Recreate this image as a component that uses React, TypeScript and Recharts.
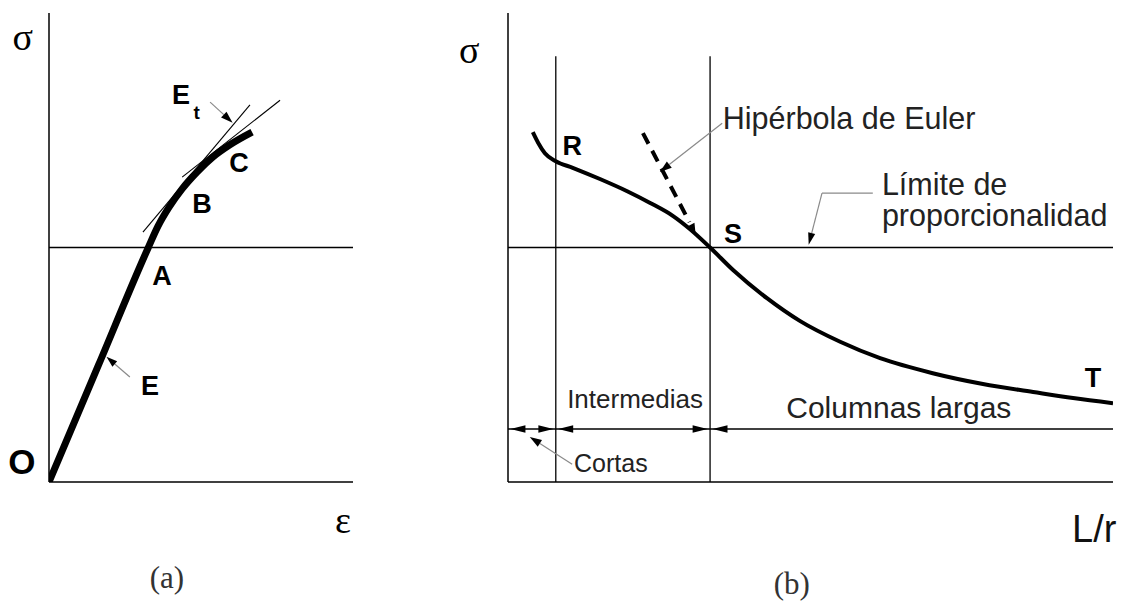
import React from 'react';
import { ComposedChart, Line, XAxis, YAxis, ReferenceLine, ReferenceDot } from 'recharts';

const W = 1126;
const H = 601;

// ---------- (a) stress–strain ----------
// strain / stress in relative units (0..100 on both axes)
const curveA = [
  { x: 0, y: 0 },
  { x: 16.3, y: 24.95 },
  { x: 32.6, y: 49.9 },
  { x: 35.9, y: 54.6 },
  { x: 39.5, y: 58.6 },
  { x: 43.8, y: 62.5 },
  { x: 48.7, y: 66.1 },
  { x: 53.9, y: 69.3 },
  { x: 59.5, y: 71.9 },
  { x: 66.8, y: 74.6 },
];
const limitA = 50;
const tangentB = [{ x: 30.9, y: 53.3 }, { x: 66.1, y: 80.4 }];
const tangentC = [{ x: 43.8, y: 65.0 }, { x: 76.0, y: 81.4 }];
const arrowEt = [{ x: 53.0, y: 81.0 }, { x: 60.4, y: 76.6 }];
const arrowE = [{ x: 26.6, y: 22.4 }, { x: 18.9, y: 26.7 }];
const pointsA = [
  { text: 'A', x: 37.2, y: 42.0 },
  { text: 'B', x: 50.3, y: 57.4 },
  { text: 'C', x: 62.5, y: 66.1 },
  { text: 'E', x: 33.2, y: 18.6 },
  { text: 'E', x: 43.4, y: 80.6 },
];
const subA = [{ text: 't', x: 48.6, y: 77.4 }];
const originA = [{ text: 'O', x: -8.9, y: 1.7 }];
const symbolsA = [
  { text: 'σ', x: -8.6, y: 92.1 },
  { text: 'ε', x: 96.7, y: -10.9 },
];
const captionA = [{ text: '(a)', x: 38.8, y: -22.6 }];

// ---------- (b) column curve ----------
const curveB = [
  { x: 4.1, y: 74.6 },
  { x: 5.0, y: 72.3 },
  { x: 6.1, y: 70.1 },
  { x: 7.9, y: 68.4 },
  { x: 10.7, y: 67.0 },
  { x: 15.2, y: 64.6 },
  { x: 19.7, y: 62.0 },
  { x: 23.5, y: 59.5 },
  { x: 27.3, y: 56.7 },
  { x: 30.1, y: 53.9 },
  { x: 33.4, y: 50.0 },
  { x: 37.2, y: 45.2 },
  { x: 42.8, y: 39.2 },
  { x: 48.3, y: 34.3 },
  { x: 54.9, y: 29.9 },
  { x: 61.5, y: 26.4 },
  { x: 70.2, y: 23.2 },
  { x: 78.5, y: 20.9 },
  { x: 86.8, y: 19.2 },
  { x: 93.4, y: 17.9 },
  { x: 100, y: 16.8 },
];
const eulerB = [{ x: 22.3, y: 74.4 }, { x: 30.0, y: 55.4 }];
const eulerTip = [{ x: 29.3, y: 57.2 }, { x: 31.0, y: 53.0 }];
const limitB = 50;
const shortLimit = 7.9;
const eulerLimit = 33.4;
const boundaryTop = 90.8;
const rangeLevel = 11.3;
// arrow heads on the range line: [tail, tip]
const rangeHeads = [
  [0.4 + 2.5, 0.4],
  [shortLimit - 0.4 - 2.5, shortLimit - 0.4],
  [shortLimit + 0.4 + 2.5, shortLimit + 0.4],
  [eulerLimit - 0.4 - 2.5, eulerLimit - 0.4],
  [eulerLimit + 0.4 + 2.5, eulerLimit + 0.4],
];
const leaderEuler = [{ x: 35.4, y: 76.5 }, { x: 25.1, y: 66.1 }];
const leaderLimitFlat = [{ x: 60.3, y: 61.6 }, { x: 51.9, y: 61.6 }];
const leaderLimit = [{ x: 51.9, y: 61.6 }, { x: 49.7, y: 50.6 }];
const leaderShort = [{ x: 10.6, y: 3.8 }, { x: 3.6, y: 9.6 }];
const pointsB = [
  { text: 'R', x: 10.6, y: 69.7 },
  { text: 'S', x: 37.2, y: 51.0 },
  { text: 'T', x: 96.7, y: 20.3 },
];
const notesLeftB = [
  { text: 'Hipérbola de Euler', x: 35.5, y: 75.3 },
  { text: 'Límite de', x: 61.8, y: 61.2 },
  { text: 'proporcionalidad', x: 61.8, y: 54.6 },
];
const intermediateNote = [{ text: 'Intermedias', x: 21.0, y: 15.8 }];
const longNote = [{ text: 'Columnas largas', x: 64.6, y: 13.6 }];
const shortNote = [{ text: 'Cortas', x: 17.0, y: 2.1 }];
const symbolsB = [{ text: 'σ', x: -6.4, y: 89.3 }];
const axisNameB = [{ text: 'L/r', x: 96.9, y: -12.8 }];
const captionB = [{ text: '(b)', x: 46.9, y: -23.8 }];

const SANS = "'Liberation Sans', Arial, Helvetica, sans-serif";
const SERIF = "'Liberation Serif', 'DejaVu Serif', 'Times New Roman', serif";
const GREY = '#8a8a8a';

type TextStyle = { size: number; family: string; weight?: number; anchor?: 'start' | 'middle' | 'end'; fill?: string };

const boldLetter: TextStyle = { size: 27, family: SANS, weight: 700 };
const boldSub: TextStyle = { size: 19, family: SANS, weight: 700 };
const boldOrigin: TextStyle = { size: 35, family: SANS, weight: 700 };
const greek: TextStyle = { size: 38, family: SERIF };
const caption: TextStyle = { size: 31, family: SERIF, fill: '#333' };
const noteStart: TextStyle = { size: 30.5, family: SANS, anchor: 'start', fill: '#222' };
const noteMid = (size: number): TextStyle => ({ size, family: SANS, fill: '#222' });
const axisName: TextStyle = { size: 38, family: SANS, fill: '#111' };

const textShape = (t: string, s: TextStyle) => (p: any) => (
  <text
    x={p.cx}
    y={p.cy}
    textAnchor={s.anchor ?? 'middle'}
    fontFamily={s.family}
    fontSize={s.size}
    fontWeight={s.weight ?? 400}
    fill={s.fill ?? '#000'}
  >
    {t}
  </text>
);

// line with a filled arrow head at the second point; pass null colour for head only
const arrowShape = (lineColor: string | null, headLen = 11, headHalf = 3.6) => (p: any) => {
  const { x1, y1, x2, y2 } = p;
  if ([x1, y1, x2, y2].some((v) => typeof v !== 'number' || isNaN(v))) return <g />;
  const dx = x2 - x1;
  const dy = y2 - y1;
  const len = Math.hypot(dx, dy) || 1;
  const ux = dx / len;
  const uy = dy / len;
  const bx = x2 - ux * headLen;
  const by = y2 - uy * headLen;
  const pts = `${x2},${y2} ${bx - uy * headHalf},${by + ux * headHalf} ${bx + uy * headHalf},${by - ux * headHalf}`;
  return (
    <g>
      {lineColor && <line x1={x1} y1={y1} x2={bx} y2={by} stroke={lineColor} strokeWidth={1.2} />}
      <polygon points={pts} fill="#000" />
    </g>
  );
};

const labels = (items: { text: string; x: number; y: number }[], s: TextStyle, key: string) =>
  items.map((d, i) => (
    <ReferenceDot
      key={`${key}-${i}`}
      x={d.x}
      y={d.y}
      r={0}
      ifOverflow="visible"
      shape={textShape(d.text, s)}
    />
  ));

const seg = (pts: { x: number; y: number }[]) =>
  [
    { x: pts[0].x, y: pts[0].y },
    { x: pts[1].x, y: pts[1].y },
  ] as any;

const axes = () => [
  <XAxis key="x" type="number" dataKey="x" domain={[0, 100]} hide allowDataOverflow />,
  <YAxis key="y" type="number" domain={[0, 100]} hide allowDataOverflow />,
];

const layer: React.CSSProperties = { position: 'absolute', left: 0, top: 0 };

function StressStrain() {
  return (
    <div style={layer}>
      <ComposedChart width={W} height={H} margin={{ top: 13, left: 49, right: W - 353, bottom: H - 482 }}>
        {axes()}
        <ReferenceLine x={0} stroke="#000" strokeWidth={1.5} ifOverflow="visible" />
        <ReferenceLine y={0} stroke="#000" strokeWidth={1.5} ifOverflow="visible" />
        <ReferenceLine y={limitA} stroke="#000" strokeWidth={1.3} ifOverflow="visible" />
        <ReferenceLine segment={seg(tangentB)} stroke="#000" strokeWidth={1.1} ifOverflow="visible" />
        <ReferenceLine segment={seg(tangentC)} stroke="#000" strokeWidth={1.1} ifOverflow="visible" />
        <Line
          data={curveA}
          dataKey="y"
          type="monotone"
          stroke="#000"
          strokeWidth={7}
          dot={false}
          activeDot={false}
          isAnimationActive={false}
        />
        <ReferenceLine segment={seg(arrowEt)} ifOverflow="visible" shape={arrowShape(GREY, 12, 4)} />
        <ReferenceLine segment={seg(arrowE)} ifOverflow="visible" shape={arrowShape(GREY, 11, 3.6)} />
        {labels(pointsA, boldLetter, 'pa')}
        {labels(subA, boldSub, 'sa')}
        {labels(originA, boldOrigin, 'oa')}
        {labels(symbolsA, greek, 'ga')}
        {labels(captionA, caption, 'ca')}
      </ComposedChart>
    </div>
  );
}

function ColumnCurve() {
  return (
    <div style={layer}>
      <ComposedChart width={W} height={H} margin={{ top: 13, left: 508, right: W - 1113, bottom: H - 482 }}>
        {axes()}
        <ReferenceLine x={0} stroke="#000" strokeWidth={1.5} ifOverflow="visible" />
        <ReferenceLine y={0} stroke="#000" strokeWidth={1.5} ifOverflow="visible" />
        <ReferenceLine y={limitB} stroke="#000" strokeWidth={1.3} ifOverflow="visible" />
        <ReferenceLine y={rangeLevel} stroke="#000" strokeWidth={1.3} ifOverflow="visible" />
        <ReferenceLine
          segment={[{ x: shortLimit, y: 0 }, { x: shortLimit, y: boundaryTop }] as any}
          stroke="#000"
          strokeWidth={1.3}
          ifOverflow="visible"
        />
        <ReferenceLine
          segment={[{ x: eulerLimit, y: 0 }, { x: eulerLimit, y: boundaryTop }] as any}
          stroke="#000"
          strokeWidth={1.3}
          ifOverflow="visible"
        />
        {rangeHeads.map(([from, to], i) => (
          <ReferenceLine
            key={`rh-${i}`}
            segment={[{ x: from, y: rangeLevel }, { x: to, y: rangeLevel }] as any}
            ifOverflow="visible"
            shape={arrowShape(null, 15, 3.8)}
          />
        ))}
        <Line
          data={eulerB}
          dataKey="y"
          type="linear"
          stroke="#000"
          strokeWidth={4}
          strokeDasharray="12 8"
          dot={false}
          activeDot={false}
          isAnimationActive={false}
        />
        <ReferenceLine segment={seg(eulerTip)} ifOverflow="visible" shape={arrowShape(null, 10, 4)} />
        <Line
          data={curveB}
          dataKey="y"
          type="monotone"
          stroke="#000"
          strokeWidth={4}
          dot={false}
          activeDot={false}
          isAnimationActive={false}
        />
        <ReferenceLine segment={seg(leaderEuler)} ifOverflow="visible" shape={arrowShape(GREY, 12, 4)} />
        <ReferenceLine segment={seg(leaderLimitFlat)} stroke={GREY} strokeWidth={1.2} ifOverflow="visible" />
        <ReferenceLine segment={seg(leaderLimit)} ifOverflow="visible" shape={arrowShape(GREY, 12, 3.6)} />
        <ReferenceLine segment={seg(leaderShort)} ifOverflow="visible" shape={arrowShape(GREY, 12, 4)} />
        {labels(pointsB, boldLetter, 'pb')}
        {labels(notesLeftB, noteStart, 'nl')}
        {labels(intermediateNote, noteMid(26), 'ni')}
        {labels(longNote, noteMid(30), 'nc')}
        {labels(shortNote, noteMid(25), 'ns')}
        {labels(symbolsB, greek, 'gb')}
        {labels(axisNameB, axisName, 'ab')}
        {labels(captionB, caption, 'cb')}
      </ComposedChart>
    </div>
  );
}

export default function App() {
  return (
    <div style={{ position: 'absolute', left: 0, top: 0, width: W, height: H, background: '#fff' }}>
      <StressStrain />
      <ColumnCurve />
    </div>
  );
}
